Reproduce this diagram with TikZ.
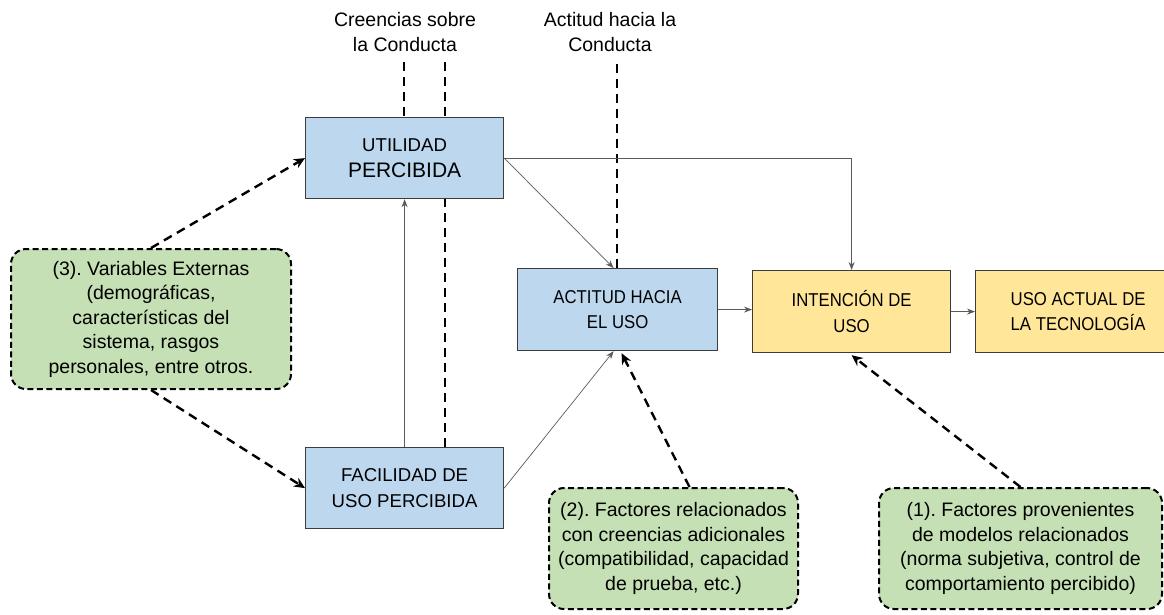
\documentclass[tikz,border=0pt]{standalone}
\usepackage{fontspec}
\setmainfont{Liberation Sans}
\newfontfamily\narrowsans{Liberation Sans}[FakeStretch=0.9]
\usetikzlibrary{arrows.meta,calc}
\definecolor{boxblue}{HTML}{BDD7EE}
\definecolor{boxyellow}{HTML}{FFE699}
\definecolor{boxgreen}{HTML}{C5E0B4}
\definecolor{edgegray}{HTML}{3C3C3C}
\definecolor{linkgray}{HTML}{5A5A5A}

\begin{document}
\frenchspacing
\begin{tikzpicture}[x=1pt,y=-1pt,
  every node/.style={font=\fontsize{19.5}{24.5}\selectfont, align=center, inner sep=0pt},
  boxfont/.style={font=\fontsize{18.6}{25.5}\selectfont},
  stage/.style={draw=edgegray, line width=1.2pt, fill=#1, anchor=north west, boxfont},
  note/.style={draw=black, line width=2pt, dash pattern=on 6pt off 3.5pt,
               rounded corners=15pt, fill=boxgreen, anchor=north west},
  link/.style={draw=linkgray, line width=0.7pt, -{Stealth[length=8pt,width=6pt]}},
  hint/.style={draw=black, line width=2.4pt, dash pattern=on 9pt off 6pt},
  hintarrow/.style={hint, -{Stealth[length=11pt,width=10pt]}}
]
\useasboundingbox (0,0) rectangle (1164,614);

% headings above the model
\node (cre) at (405,32) {Creencias sobre\\la Conducta};
\node (act) at (610,32) {Actitud hacia la\\Conducta};

% dashed guides behind the boxes
\draw[hint] (404,62) -- (404,117);
\draw[hint] (445,62) -- (445,117);
\draw[hint] (445,198) -- (445,447);
\draw[hint] (617,64) -- (617,268);

% constructs of the model
\node[stage=boxblue, minimum width=198pt, minimum height=81pt] (pu) at (305,117)
  {{\fontsize{18.6}{26}\selectfont UTILIDAD}\\{\fontsize{21}{26}\selectfont PERCIBIDA}};
\node[stage=boxblue, minimum width=198pt, minimum height=81pt] (fa) at (305,447)
  {FACILIDAD DE\\USO PERCIBIDA};
\node[stage=boxblue, minimum width=200pt, minimum height=82pt] (att) at (517,268)
  {\narrowsans ACTITUD HACIA\\\narrowsans EL USO};
\node[stage=boxyellow, minimum width=198pt, minimum height=82pt] (int) at (752,270)
  {\narrowsans INTENCIÓN DE\\\narrowsans USO};
\node[stage=boxyellow, minimum width=205pt, minimum height=82pt] (uso) at (975,270)
  {\narrowsans USO ACTUAL DE\\\narrowsans LA TECNOLOGÍA};

% external factors
\node[note, minimum width=280pt, minimum height=140pt] (n3) at (10,248)
  {(3). Variables Externas\\(demográficas,\\características del\\sistema, rasgos\\personales, entre otros.};
\node[note, minimum width=249pt, minimum height=121pt] (n2) at (548,487)
  {(2). Factores relacionados\\con creencias adicionales\\(compatibilidad, capacidad\\de prueba, etc.)};
\node[note, minimum width=283pt, minimum height=121pt] (n1) at (878,487)
  {(1). Factores provenientes\\de modelos relacionados\\(norma subjetiva, control de\\comportamiento percibido)};

% causal links
\draw[link] (pu.east) -| (int.north);
\draw[link] (pu.east) -- ($(att.north)+(-4,0)$);
\draw[link] (fa.north) -- (pu.south);
\draw[link] (fa.east) -- ($(att.south)+(-4,0)$);
\draw[link] (att.east) -- (att.east -| int.west);
\draw[link] (int.east) -- (int.east -| uso.west);

% influence of external factors
\draw[hintarrow] (n3.north) -- (pu.west);
\draw[hintarrow] (n3.south) -- (fa.west);
\draw[hintarrow] ($(n2.north)+(16,0)$) -- ($(att.south)+(4,2)$);
\draw[hintarrow] (n1.north) -- ($(int.south)+(0,2)$);
\end{tikzpicture}
\end{document}
